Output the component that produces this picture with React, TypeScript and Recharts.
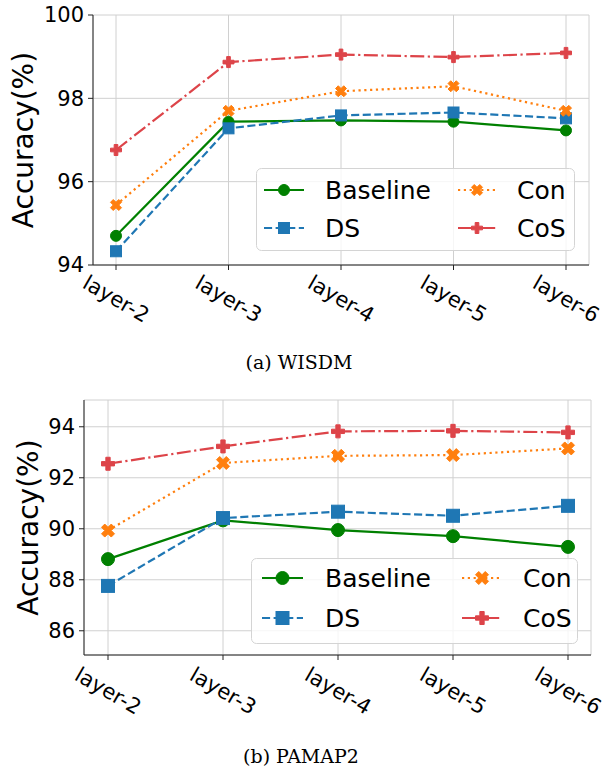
import React from 'react';
import { LineChart, Line, XAxis, YAxis, CartesianGrid, Legend } from 'recharts';

const layers = ['layer-2', 'layer-3', 'layer-4', 'layer-5', 'layer-6'];

const wisdmBaseline = [94.7, 97.44, 97.47, 97.44, 97.23];
const wisdmDS = [94.33, 97.28, 97.59, 97.66, 97.52];
const wisdmCon = [95.44, 97.7, 98.17, 98.29, 97.7];
const wisdmCoS = [96.76, 98.87, 99.05, 98.99, 99.09];

const pamapBaseline = [88.81, 90.33, 89.95, 89.71, 89.29];
const pamapDS = [87.76, 90.42, 90.67, 90.51, 90.9];
const pamapCon = [89.93, 92.58, 92.86, 92.89, 93.15];
const pamapCoS = [92.55, 93.23, 93.82, 93.84, 93.78];

const wisdmTicks = [94, 96, 98, 100];
const pamapTicks = [86, 88, 90, 92, 94];

const seriesNames = ['Baseline', 'DS', 'Con', 'CoS'];

const FONT = 'DejaVu Sans';

type Shape = 'circle' | 'square' | 'x' | 'plus';

const styles: { color: string; dash?: string; shape: Shape }[] = [
  { color: '#008000', dash: undefined, shape: 'circle' },
  { color: '#1f77b4', dash: '8.1 3.5', shape: 'square' },
  { color: '#ff7f0e', dash: '2.2 3.6', shape: 'x' },
  { color: '#dd4449', dash: '14 3.5 2.2 3.5', shape: 'plus' },
];

const X_PTS = [
  [-0.25, -0.5], [0, -0.25], [0.25, -0.5], [0.5, -0.25], [0.25, 0], [0.5, 0.25],
  [0.25, 0.5], [0, 0.25], [-0.25, 0.5], [-0.5, 0.25], [-0.25, 0], [-0.5, -0.25],
];
const P_PTS = [
  [-1 / 6, -0.5], [1 / 6, -0.5], [1 / 6, -1 / 6], [0.5, -1 / 6], [0.5, 1 / 6], [1 / 6, 1 / 6],
  [1 / 6, 0.5], [-1 / 6, 0.5], [-1 / 6, 1 / 6], [-0.5, 1 / 6], [-0.5, -1 / 6], [-1 / 6, -1 / 6],
];

function Marker({ shape, cx, cy, size, color }: { shape: Shape; cx: number; cy: number; size: number; color: string }) {
  const h = size / 2;
  if (shape === 'circle') return <circle cx={cx} cy={cy} r={h} fill={color} stroke={color} strokeWidth={1} />;
  if (shape === 'square')
    return <rect x={cx - h} y={cy - h} width={size} height={size} fill={color} stroke={color} strokeWidth={1} />;
  const pts = (shape === 'x' ? X_PTS : P_PTS).map(([a, b]) => `${cx + a * size},${cy + b * size}`).join(' ');
  return <polygon points={pts} fill={color} stroke={color} strokeWidth={1} strokeLinejoin="miter" />;
}

type LegendLayout = {
  left: number; top: number; width: number; height: number;
  cols: { hx1: number; hx2: number; tx: number }[];
  rows: number[];
};

type PanelProps = {
  top: number;
  height: number;
  series: number[][];
  domain: [number, number];
  ticks: number[];
  yAxisWidth: number;
  marginRight: number;
  padLeft: number;
  padRight: number;
  markerSize: number;
  labelX: number;
  xTickOffset: number;
  legend: LegendLayout;
};

function Panel(p: PanelProps) {
  const data = layers.map((layer, i) => {
    const row: Record<string, string | number> = { layer };
    seriesNames.forEach((n, k) => {
      row[n] = p.series[k][i];
    });
    return row;
  });

  const renderXTick = (props: any) => {
    const { x, y, payload } = props;
    const ty = y + p.xTickOffset;
    return (
      <text
        x={x}
        y={ty}
        transform={`rotate(30 ${x} ${ty})`}
        textAnchor="middle"
        dominantBaseline="central"
        fontFamily={FONT}
        fontSize={21}
        fill="#000"
      >
        {payload.value}
      </text>
    );
  };

  const renderLegend = () => {
    const L = p.legend;
    return (
      <svg width={L.width} height={L.height} style={{ display: 'block' }}>
        <rect x={0.5} y={0.5} width={L.width - 1} height={L.height - 1} rx={5} ry={5} fill="#fff" fillOpacity={0.8} stroke="#d4d4d4" />
        {seriesNames.map((name, k) => {
          const col = L.cols[Math.floor(k / 2)];
          const ry = L.rows[k % 2];
          const st = styles[k];
          return (
            <g key={name}>
              <line x1={col.hx1} x2={col.hx2} y1={ry} y2={ry} stroke={st.color} strokeWidth={2.2} strokeDasharray={st.dash} />
              <Marker shape={st.shape} cx={(col.hx1 + col.hx2) / 2} cy={ry} size={p.markerSize} color={st.color} />
              <text x={col.tx} y={ry} dominantBaseline="central" fontFamily={FONT} fontSize={25} fill="#000">
                {name}
              </text>
            </g>
          );
        })}
      </svg>
    );
  };

  return (
    <div style={{ position: 'absolute', left: 0, top: p.top, width: 612, height: p.height }}>
      <LineChart
        width={612}
        height={p.height}
        data={data}
        margin={{ top: 15, right: p.marginRight, bottom: 0, left: 0 }}
      >
        <CartesianGrid stroke="#d0d0d0" strokeWidth={1} />
        <XAxis
          dataKey="layer"
          interval={0}
          height={70}
          padding={{ left: p.padLeft, right: p.padRight }}
          axisLine={{ stroke: '#222' }}
          tickLine={{ stroke: '#222' }}
          tickSize={5}
          tick={renderXTick}
        />
        <XAxis
          xAxisId="top"
          orientation="top"
          dataKey="layer"
          height={0}
          tick={false}
          tickLine={false}
          padding={{ left: p.padLeft, right: p.padRight }}
          axisLine={{ stroke: '#222' }}
        />
        <YAxis
          type="number"
          domain={p.domain}
          ticks={p.ticks}
          allowDataOverflow
          width={p.yAxisWidth}
          axisLine={{ stroke: '#222' }}
          tickLine={{ stroke: '#222' }}
          tickSize={5}
          tickMargin={4}
          tick={{ fontFamily: FONT, fontSize: 21, fill: '#000' }}
          label={{
            content: (lp: any) => {
              const vb = lp.viewBox || { y: 15, height: 250 };
              const cy = vb.y + vb.height / 2;
              return (
                <text
                  x={p.labelX}
                  y={cy}
                  transform={`rotate(-90 ${p.labelX} ${cy})`}
                  textAnchor="middle"
                  fontFamily={FONT}
                  fontSize={28}
                  fill="#000"
                >
                  Accuracy(%)
                </text>
              );
            },
          }}
        />
        <YAxis
          yAxisId="right"
          orientation="right"
          type="number"
          domain={p.domain}
          allowDataOverflow
          width={0}
          tick={false}
          tickLine={false}
          axisLine={{ stroke: '#222' }}
        />
        {seriesNames.map((name, k) => {
          const st = styles[k];
          return (
            <Line
              key={name}
              type="linear"
              dataKey={name}
              stroke={st.color}
              strokeWidth={2.2}
              strokeDasharray={st.dash}
              isAnimationActive={false}
              activeDot={false}
              dot={(dp: any) => (
                <Marker
                  key={`${name}-${dp.index}`}
                  shape={st.shape}
                  cx={dp.cx}
                  cy={dp.cy}
                  size={p.markerSize}
                  color={st.color}
                />
              )}
            />
          );
        })}
        <Legend
          layout="horizontal"
          verticalAlign="middle"
          align="center"
          content={renderLegend}
          wrapperStyle={{
            position: 'absolute',
            left: p.legend.left,
            top: p.legend.top,
            width: p.legend.width,
            height: p.legend.height,
            margin: 0,
            padding: 0,
          }}
        />
      </LineChart>
    </div>
  );
}

export default function App() {
  return (
    <div style={{ position: 'absolute', left: 0, top: 0, width: 612, height: 767, background: '#fff' }}>
      <Panel
        top={0}
        height={335}
        series={[wisdmBaseline, wisdmDS, wisdmCon, wisdmCoS]}
        domain={[94, 100]}
        ticks={wisdmTicks}
        yAxisWidth={93}
        marginRight={23}
        padLeft={23}
        padRight={23}
        markerSize={11}
        labelX={33}
        xTickOffset={27}
        legend={{
          left: 256,
          top: 168,
          width: 319,
          height: 83,
          cols: [
            { hx1: 8, hx2: 48, tx: 69 },
            { hx1: 202, hx2: 240, tx: 261 },
          ],
          rows: [22, 60],
        }}
      />
      <svg style={{ position: 'absolute', left: 0, top: 340 }} width={612} height={40}>
        <text x={299} y={29} textAnchor="middle" fontFamily="DejaVu Serif" fontSize={19} fill="#000">
          (a) WISDM
        </text>
      </svg>
      <Panel
        top={385}
        height={340}
        series={[pamapBaseline, pamapDS, pamapCon, pamapCoS]}
        domain={[85.05, 95.05]}
        ticks={pamapTicks}
        yAxisWidth={84}
        marginRight={21}
        padLeft={24}
        padRight={23}
        markerSize={13}
        labelX={38}
        xTickOffset={29}
        legend={{
          left: 251,
          top: 173,
          width: 327,
          height: 86,
          cols: [
            { hx1: 11, hx2: 52, tx: 74 },
            { hx1: 211, hx2: 251, tx: 272 },
          ],
          rows: [20, 60],
        }}
      />
      <svg style={{ position: 'absolute', left: 0, top: 730 }} width={612} height={37}>
        <text x={301} y={33} textAnchor="middle" fontFamily="DejaVu Serif" fontSize={19} fill="#000">
          (b) PAMAP2
        </text>
      </svg>
    </div>
  );
}
